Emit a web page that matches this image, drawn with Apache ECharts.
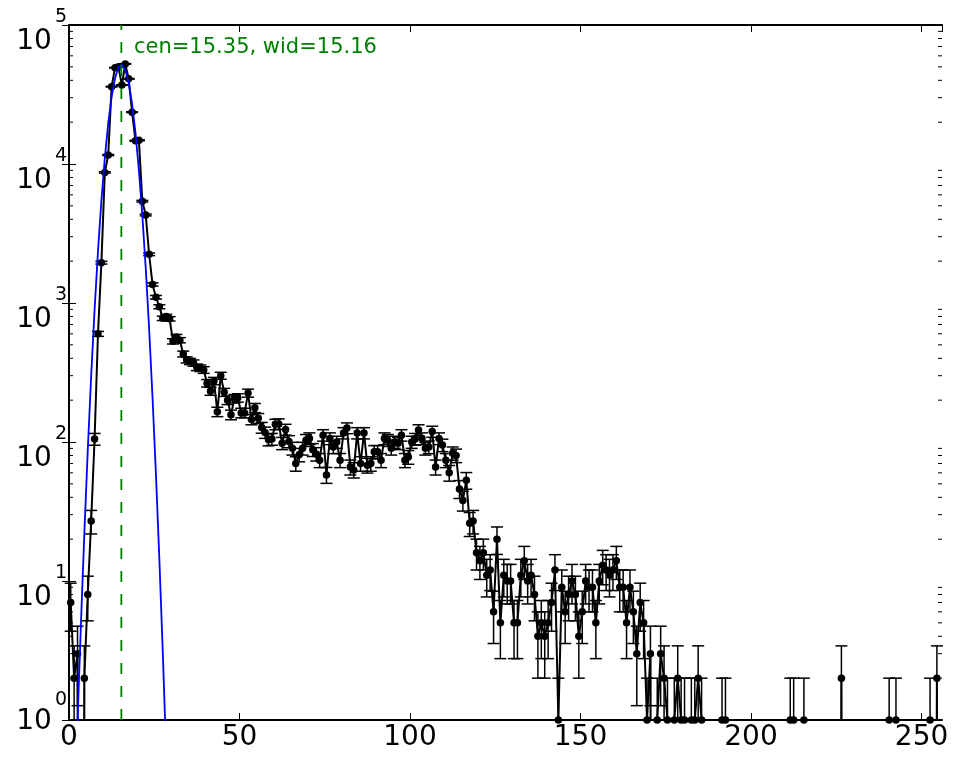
<!DOCTYPE html>
<html><head><meta charset="utf-8">
<script src="https://cdn.jsdelivr.net/npm/echarts@6/dist/echarts.min.js"></script>
<style>html,body{margin:0;padding:0;background:#fff}#c{width:965px;height:766px}</style>
</head><body><div id="c"></div>
<script>
// counts per channel (bin centre = index + 0.5)
const counts = [
  7,2,3,0,2,8,27,105,600,1950,
  8700,11600,36000,49300,50000,37000,52500,41000,23600,14700,
  14800,5400,4300,2240,1360,1100,940,776,800,770,
  530,570,540,430,390,380,370,345,340,330,
  265,232,275,165,300,228,200,157,205,208,
  162,162,225,145,176,148,127,117,104,105,
  134,135,98,123,101,90,70,81,90,103,
  106,88,82,74,112,58,106,92,100,74,
  116,126,66,63,116,70,116,68,70,85,
  85,74,106,103,90,100,98,112,74,78,
  100,105,122,106,90,92,119,66,106,95,
  74,60,83,80,46,38,53,26,27,16,
  14,16,11,12,6,20,5,11,10,10,
  5,5,11,14,10,11,8,4,5,4,
  5,7,12,1,9,6,8,10,8,4,
  6,10,9,9,5,10,13,12,11,12,
  14,9,9,5,9,6,3,7,5,1,
  3,0,1,3,2,1,0,1,2,1,
  1,0,1,1,2,1,0,0,0,0,
  0,1,1,0,0,0,0,0,0,0,
  0,0,0,0,0,0,0,0,0,0,
  0,1,1,0,0,1,0,0,0,0,
  0,0,0,0,0,0,2,0,0,0,
  0,0,0,0,0,0,0,0,0,0,
  1,0,1,0,0,0,0,0,0,0,
  0,0,1,0,2,0
];
const binOffset = 0.5;
// Gaussian fit curve, sampled at bin centres
const fitX = [1.5,2.5,3.5,4.5,5.5,6.5,7.5,8.5,9.5,10.5,11.5,12.5,13.5,14.5,15.5,16.5,17.5,18.5,19.5,20.5,21.5,22.5,23.5,24.5,25.5,26.5,27.5,28.5,29.5];
const fitY = [0.17,0.97,4.9,22,87,297,892,2350,5440,11020,19560,30430,41490,49580,51920,47660,38340,27030,16700,9040,4290,1785,650,207,58,14.3,3.07,0.58,0.096];
const fitCen = 15.35;
const fitWid = 15.16;
const xMin = 0, xMax = 256, xInterval = 50;
const yMin = 1, yMax = 100000;
const minorMantissas = [2,3,4,5,6,7,8,9];
const decades = [1,10,100,1000,10000];

const FONT = 'DejaVu Sans';
const annotation = 'cen=' + fitCen.toFixed(2) + ', wid=' + fitWid.toFixed(2);
const pts = counts.map((v, i) => [i + binOffset, v]);
const lineData = pts.map(p => p[1] > 0 ? {value: [p[0], p[1]]} : {value: [p[0], 1e-9], symbol: 'none'});
const errData = pts.filter(p => p[1] > 0);
const minorVals = [];
decades.forEach(d => minorMantissas.forEach(m => minorVals.push(m * d)));

const chart = echarts.init(document.getElementById('c'), null, {renderer: 'canvas'});

const axisLineStyle = {color: '#000', width: 2};
const tickStyle = {color: '#000', width: 1};

chart.setOption({
  animation: false,
  backgroundColor: '#fff',
  textStyle: {fontFamily: FONT},
  grid: {left: 69, right: 23, top: 25, bottom: 46, containLabel: false, outerBoundsMode: 'none'},
  xAxis: [
    {type: 'value', min: xMin, max: xMax, interval: xInterval, position: 'bottom',
     axisLine: {show: true, onZero: false, lineStyle: axisLineStyle},
     axisTick: {show: true, inside: true, length: 7, lineStyle: tickStyle},
     axisLabel: {show: true, showMaxLabel: false, margin: 4, fontSize: 28, lineHeight: 28, color: '#000', fontFamily: FONT,
       formatter: v => (v % xInterval === 0 ? String(v) : '')},
     splitLine: {show: false}},
    {type: 'value', min: xMin, max: xMax, interval: xInterval, position: 'top',
     axisLine: {show: true, onZero: false, lineStyle: axisLineStyle},
     axisTick: {show: true, inside: true, length: 7, lineStyle: tickStyle},
     axisLabel: {show: false}, splitLine: {show: false}}
  ],
  yAxis: [
    {type: 'log', logBase: 10, min: yMin, max: yMax, position: 'left',
     axisLine: {show: true, lineStyle: axisLineStyle},
     axisTick: {show: true, inside: true, length: 7, lineStyle: tickStyle},
     axisLabel: {show: true, margin: 2, color: '#000',
       formatter: function (v) {
         const e = Math.round(Math.log10(v));
         return e === 0 ? '{b0|10}{e0|0}' : '{b|10}{e|' + e + '}';
       },
       rich: {
         b: {fontSize: 28, lineHeight: 28, padding: [33, 0, 0, 0], fontFamily: FONT, color: '#000'},
         e: {fontSize: 19, lineHeight: 19, padding: [13, 0, 29, 3], fontFamily: FONT, color: '#000'},
         b0: {fontSize: 28, lineHeight: 28, padding: [18, 0, 15, 0], fontFamily: FONT, color: '#000'},
         e0: {fontSize: 19, lineHeight: 19, padding: [1, 0, 41, 3], fontFamily: FONT, color: '#000'}
       }},
     splitLine: {show: false}},
    {type: 'log', logBase: 10, min: yMin, max: yMax, position: 'right',
     axisLine: {show: true, lineStyle: axisLineStyle},
     axisTick: {show: true, inside: true, length: 7, lineStyle: tickStyle},
     axisLabel: {show: false}, splitLine: {show: false}}
  ],
  graphic: [
    {type: 'text', left: 134, top: 37, z: 100,
     style: {text: annotation, fontSize: 21, fontFamily: FONT, fill: '#008000'}}
  ],
  series: [
    {
      type: 'custom', name: 'minor ticks', silent: true, z: 5,
      data: minorVals.map(v => [xMin, v]), encode: {x: 0, y: 1},
      renderItem: function (params, api) {
        const v = api.value(1);
        const L = api.coord([xMin, v]);
        const R = api.coord([xMax, v]);
        const st = {stroke: '#000', lineWidth: 1};
        return {type: 'group', children: [
          {type: 'line', shape: {x1: L[0], y1: L[1], x2: L[0] + 4, y2: L[1]}, style: st},
          {type: 'line', shape: {x1: R[0] - 4, y1: R[1], x2: R[0], y2: R[1]}, style: st}
        ]};
      }
    },
    {
      type: 'custom', name: 'errors', silent: true, z: 2,
      data: errData, encode: {x: 0, y: 1},
      renderItem: function (params, api) {
        const x = api.value(0), v = api.value(1);
        const e = Math.sqrt(v);
        const hi = api.coord([x, v + e]);
        const base = api.coord([x, yMin]);
        const lo = (v - e) >= yMin ? api.coord([x, v - e]) : null;
        const cap = 6;
        const st = {stroke: '#000', lineWidth: 1.5};
        const ch = [
          {type: 'line', shape: {x1: hi[0], y1: hi[1], x2: hi[0], y2: lo ? lo[1] : base[1]}, style: st},
          {type: 'line', shape: {x1: hi[0] - cap, y1: hi[1], x2: hi[0] + cap, y2: hi[1]}, style: st}
        ];
        if (lo) ch.push({type: 'line', shape: {x1: lo[0] - cap, y1: lo[1], x2: lo[0] + cap, y2: lo[1]}, style: st});
        return {type: 'group', children: ch};
      }
    },
    {
      type: 'line', name: 'data', data: lineData, z: 3, clip: true,
      symbol: 'circle', symbolSize: 7.5,
      itemStyle: {color: '#000'},
      lineStyle: {color: '#000', width: 2}
    },
    {
      type: 'line', name: 'fit', data: fitX.map((x, i) => [x, fitY[i]]), z: 4, clip: true,
      symbol: 'none', lineStyle: {color: '#0000ff', width: 1.8}
    },
    {
      type: 'line', name: 'cen', data: [[fitCen, yMin], [fitCen, yMax]], z: 4, clip: true,
      symbol: 'none', lineStyle: {color: '#008000', width: 1.8, type: [11, 12]}
    }
  ]
});
</script>
</body></html>
